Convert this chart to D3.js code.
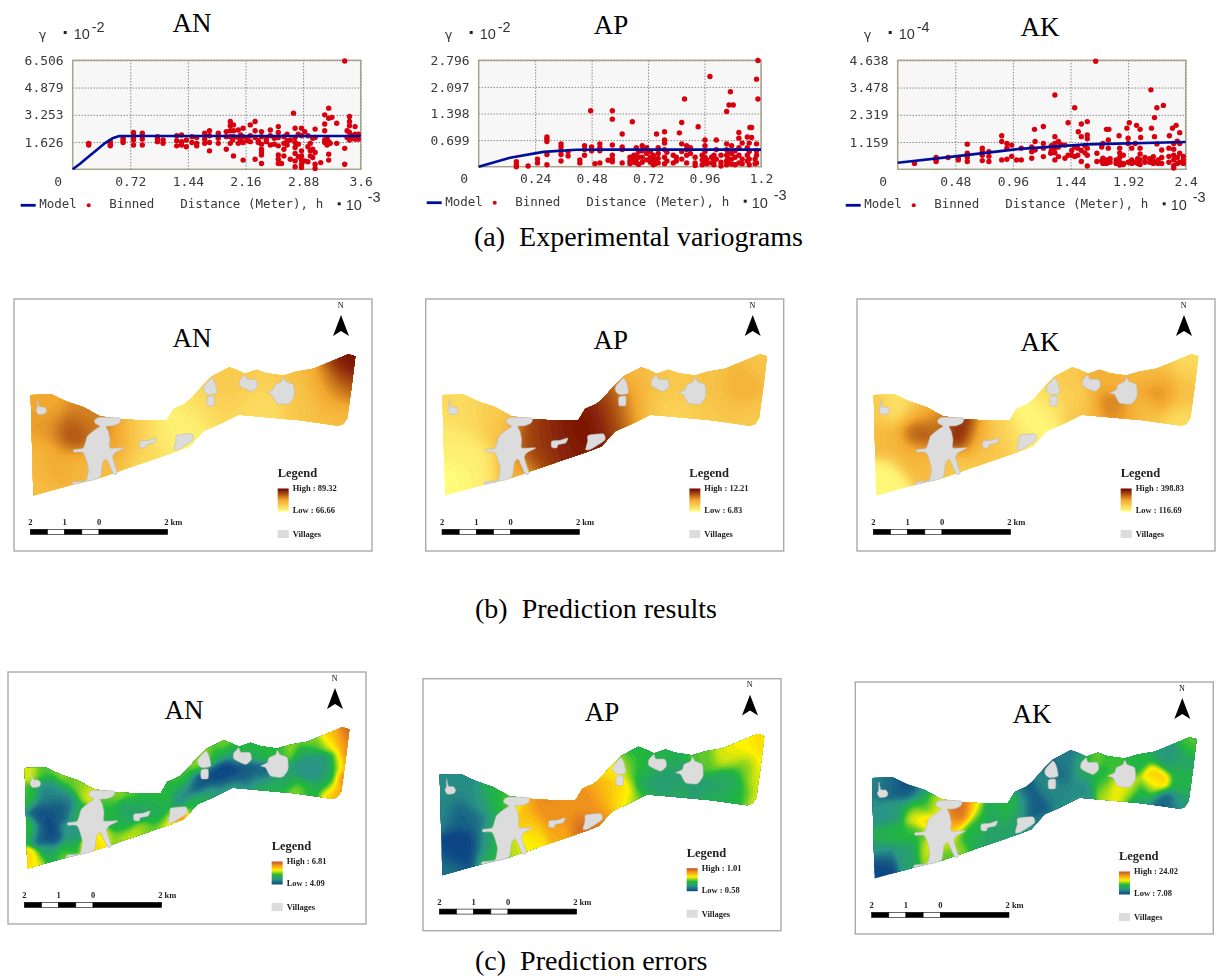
<!DOCTYPE html>
<html>
<head>
<meta charset="utf-8">
<script src="https://cdn.jsdelivr.net/npm/d3@7"></script>
<style>
  html, body { margin: 0; background: #fff; }
  svg { display: block; }
  .serif { font-family: "Liberation Serif", serif; fill: #000; }
  .mono { font-family: "DejaVu Sans Mono", monospace; fill: #3a3a3a; }
  .sans { font-family: "Liberation Sans", sans-serif; fill: #333; }
  .bold { font-family: "Liberation Serif", serif; font-weight: bold; fill: #222; }
</style>
</head>
<body>
<svg id="chart" width="1219" height="976"></svg>
<script>
// variogram data: [ distance, [ semivariances at that distance ] ]
const anBinned = [
  [0.20,[1.55,1.45]],[0.47,[1.65,1.5,1.4]],[0.63,[1.85,1.7,1.6]],[0.76,[2.2,2.05,1.9,1.75,1.45]],
  [0.87,[2.15,2.0,1.8,1.45]],[1.06,[1.95,1.8,1.65]],[1.13,[1.75,1.55]],[1.30,[2.0,1.7,1.4]],
  [1.36,[2.05,1.65,1.45]],[1.42,[1.75,1.35]],[1.49,[1.95,1.6]],[1.55,[1.9,1.55,1.4]],
  [1.65,[2.15,1.8,1.55]],[1.71,[2.3,2.0,1.6,1.1]],[1.82,[2.15,1.85,1.55]],[1.92,[2.25,1.95,1.2]],
  [1.97,[2.85,2.6,2.3,1.95,1.55]],[2.0,[1.75,1.85]],[2.01,[2.65,2.3,1.95,0.8]],[2.07,[2.35,1.9,1.55]],
  [2.1,[1.75,1.65,2.05]],[2.13,[2.45,1.95,1.6,0.55]],[2.18,[1.85,1.7]],[2.22,[2.65,2.0,1.65]],
  [2.28,[2.85,2.3,1.9,0.6]],[2.32,[1.7,1.6]],[2.36,[2.25,1.95,1.5,1.2,1.0,0.85,0.35]],[2.42,[1.8,1.65]],
  [2.47,[2.35,2.0,1.45]],[2.52,[1.85,1.5]],[2.57,[2.55,2.2,1.9,1.4,0.85,0.6,0.35]],
  [2.61,[0.35]],[2.64,[1.95,1.55,1.2,0.8]],[2.68,[2.1,1.7,1.45]],[2.72,[1.75,0.6]],[2.76,[3.35]],
  [2.78,[2.45,1.9,1.6,1.3,0.95,0.5,0.15]],[2.82,[2.1,1.5,0.75]],
  [2.86,[2.45,2.0,1.1,0.8,0.55,0.3,0.1]],[2.90,[2.25,0.5]],[2.94,[2.0,1.35,0.45]],[2.97,[1.55,1.1,0.8]],
  [3.0,[1.85,1.2,0.7]],[3.03,[2.4,1.9,1.0,0.3,0.05]],[3.1,[0.4]],[3.15,[3.25,2.7,2.3,1.75,1.6]],
  [3.18,[1.85,1.45]],[3.20,[3.65,3.05,1.65,0.9,0.55]],[3.22,[1.55]],
  [3.24,[3.1]],[3.30,[2.75,1.55]],[3.40,[6.46,1.25,0.3]],[3.43,[1.9,2.3]],[3.46,[3.15,2.85,2.6,2.2,1.9,1.75]],
  [3.5,[1.85,2.0]],[3.53,[2.55,2.1,1.8]],[3.57,[2.1,1.8]]
];
const apBinned = [
  [0.16,[0.13,0.05,0.0]],[0.21,[0.02]],[0.25,[0.2,0.1]],[0.29,[0.78,0.72,0.66,0.32,0.05]],
  [0.35,[0.6,0.52,0.42,0.32,0.15]],[0.38,[0.4,0.28]],[0.43,[0.18,0.1]],[0.45,[0.55,0.45,0.3]],
  [0.476,[1.47]],[0.48,[0.52,0.42]],[0.494,[0.08]],[0.515,[0.6,0.5,0.42,0.1]],[0.55,[0.17]],
  [0.568,[1.47,1.25,0.57,0.3,0.2,0.13]],[0.61,[0.86,0.52,0.45,0.1]],[0.643,[0.25,0.15,0.08]],
  [0.653,[1.18]],[0.66,[0.3,0.2,0.12]],[0.67,[0.5,0.3,0.2,0.1]],[0.68,[0.4,0.25,0.06]],
  [0.695,[0.55,0.42,0.25,0.12]],[0.714,[0.5,0.35,0.18]],[0.73,[0.4,0.25,0.12]],
  [0.742,[0.3,0.15,0.05]],[0.75,[0.2,0.08]],[0.756,[0.86]],[0.763,[0.5,0.35,0.22,0.1]],
  [0.79,[0.92,0.7,0.62,0.45,0.25,0.08]],[0.8,[0.38,0.15]],
  [0.827,[0.3,0.1]],[0.84,[0.25,0.15]],[0.853,[0.89]],[0.863,[1.16,0.6,0.4,0.2]],[0.875,[1.78]],
  [0.884,[0.55,0.45,0.3,0.1]],[0.9,[0.5,0.35]],[0.92,[0.25,0.1,0.03]],[0.933,[1.05]],[0.95,[0.3,0.18,0.05]],
  [0.962,[0.7,0.55,0.4,0.25,0.12]],[0.97,[0.08,0.18]],[0.983,[2.37]],[0.99,[0.25,0.1]],[1.0,[0.3,0.15,0.05]],
  [1.01,[0.7,0.45,0.2]],[1.03,[0.3,0.12,0.02]],[1.054,[1.45,0.6,0.45,0.3,0.15,0.05]],[1.06,[0.38,0.22,0.1]],
  [1.064,[1.62]],[1.07,[1.97]],[1.075,[0.55,0.35,0.2,0.07]],[1.082,[1.62]],[1.09,[0.42,0.25,0.05]],
  [1.106,[0.9,0.75,0.5,0.3,0.1]],[1.12,[0.62,0.2,0.08]],[1.142,[0.78,0.5,0.3,0.15]],[1.15,[0.62,0.4,0.2,0.05]],
  [1.153,[1.03]],[1.16,[1.03,0.77]],[1.175,[0.2,0.08]],[1.181,[2.3,0.6,0.42,0.3,0.1]],[1.187,[2.79,1.78]]
];
const akBinned = [
  [0.14,[0.25]],[0.32,[0.5,0.4,0.33]],[0.42,[0.5]],[0.505,[0.47,0.4]],[0.58,[1.07,0.68,0.5,0.33]],
  [0.705,[0.9,0.75,0.6,0.37]],[0.76,[0.75,0.55,0.33]],[0.867,[1.43,1.18,0.4]],[0.91,[1.1,0.9,0.43]],
  [0.95,[1.03,0.55]],[0.99,[0.4]],[1.03,[0.9,0.4]],[1.117,[0.95,0.75,0.47]],[1.14,[1.7]],
  [1.145,[1.18,0.82]],[1.214,[1.82,1.1,0.9,0.54]],[1.275,[0.68]],[1.28,[1.0,0.8]],[1.31,[3.16,1.39,1.1,0.9,0.7,0.4]],
  [1.34,[1.18,0.95,0.54]],[1.36,[1.05]],[1.394,[1.03,0.47]],[1.42,[1.98,0.6]],[1.45,[0.6,0.8]],[1.475,[2.62,0.95,0.54]],
  [1.5,[0.6,0.9]],[1.505,[1.6]],[1.53,[1.93,1.39,0.8,0.33]],[1.56,[1.0,0.7]],[1.58,[2.03,1.46,1.3,0.9,0.6,0.14]],
  [1.65,[4.6]],[1.66,[0.68,0.33]],[1.7,[0.35,0.95]],[1.71,[1.1,0.47,0.25]],[1.74,[1.7,0.4,0.25]],[1.755,[1.25,0.9]],
  [1.76,[1.7]],[1.77,[0.3,0.45]],[1.82,[0.25,0.4]],[1.845,[1.43]],[1.85,[0.9,0.7,0.5,0.3,0.18]],[1.88,[0.25,0.6,0.2]],
  [1.91,[1.75]],[1.92,[1.32,1.1,0.3]],[1.93,[1.98]],[1.95,[0.25,0.4,0.9]],[1.98,[1.1,0.3]],
  [1.99,[1.87]],[2.0,[0.25,0.45]],[2.02,[1.7,0.9,0.65,0.4,0.2]],[2.025,[1.35]],[2.06,[0.3,0.5]],[2.1,[0.45,0.3]],
  [2.11,[3.38]],[2.115,[1.75]],[2.13,[0.54,0.35,0.25]],[2.14,[2.2,1.39]],[2.16,[2.62,1.08]],[2.17,[0.25,0.4]],
  [2.2,[0.82,0.5,0.25]],[2.214,[2.72]],[2.26,[0.9,0.55,0.3]],
  [2.264,[1.43]],[2.29,[1.75]],[2.3,[1.1,0.85,0.6,0.4,0.15,0.05]],[2.32,[1.87]],[2.33,[0.5,1.2,0.25]],
  [2.35,[1.56,1.1,0.68,0.3]],[2.38,[0.4,0.25,0.55]]
];

// fitted model lines
const anModel = [[0,0],[0.1,0.36],[0.2,0.76],[0.3,1.15],[0.4,1.55],[0.5,1.86],[0.58,1.98],[0.72,1.99],[3.6,1.99]];
const apModel = [[0,0],[0.133,0.237],[0.275,0.39],[0.416,0.447],[0.56,0.45],[1.2,0.45]];
const akModel = [[0,0.28],[0.46,0.54],[1.02,0.87],[1.575,1.06],[2.4,1.16]];

// study area, in map units (frame runs 42..1116 by 27..785)
const areaOutline = [[92,316],[155,314],[200,335],[250,352],[300,380],[360,388],[420,392],[500,392],[510,375],[520,358],[555,342],[575,325],[610,285],[635,260],[688,232],[710,240],[735,252],[770,240],[800,250],[850,257],[890,245],[940,237],[1000,212],[1045,193],[1066,199],[1055,290],[1042,385],[1030,403],[1015,408],[900,392],[715,375],[655,405],[610,425],[570,470],[525,487],[400,530],[300,565],[218,585],[100,618]];
const villages = [
  [[113,328],[118,350],[133,352],[140,362],[135,372],[115,374],[108,362],[112,352]],
  [[285,390],[300,383],[360,385],[358,400],[340,408],[318,410],[325,425],[330,450],[330,475],[372,475],[345,490],[338,505],[352,550],[340,553],[320,510],[308,520],[302,560],[285,570],[262,575],[218,585],[222,577],[258,572],[265,535],[250,490],[222,488],[222,480],[250,475],[262,440],[285,420],[300,410],[285,400]],
  [[420,455],[445,452],[468,445],[462,460],[440,465],[435,475],[420,473]],
  [[530,437],[575,433],[580,450],[560,465],[535,480],[522,480],[528,455]],
  [[612,290],[635,265],[645,280],[650,310],[625,315],[612,305]],
  [[622,322],[642,320],[642,347],[622,347]],
  [[720,270],[735,255],[740,268],[768,270],[772,290],[755,305],[725,292],[718,285]],
  [[850,262],[858,275],[880,285],[882,320],[865,343],[830,340],[815,315],[800,310],[820,300],[825,285],[845,275]]
];

// surface samples: [ x, y, position in legend range ]
const predAN = [[215,425,.8],[150,340,.5],[250,365,.6],[130,420,.55],[105,500,.4],[110,600,.38],[170,520,.5],[230,540,.42],[310,530,.38],[350,440,.5],[300,420,.65],[400,430,.33],[450,430,.18],[500,440,.1],[440,510,.22],[540,400,.05],[600,390,.1],[580,350,.18],[640,350,.28],[670,300,.3],[700,270,.3],[700,360,.22],[780,340,.2],[780,260,.28],[900,330,.3],[900,270,.35],[960,330,.4],[960,260,.5],[1000,380,.35],[1030,300,.75],[1040,220,1],[1020,240,.9],[1000,300,.55],[1030,380,.4]];
const predAP = [[100,350,.2],[110,450,.12],[120,570,.02],[180,380,.22],[180,480,.1],[200,560,.1],[250,375,.3],[260,430,.35],[300,540,.4],[330,560,.45],[340,430,.78],[360,510,.82],[400,430,.88],[410,500,.85],[470,430,.92],[470,490,.9],[520,410,1],[510,470,.95],[540,380,.92],[570,440,.95],[590,360,.85],[600,410,.75],[630,330,.7],[660,380,.52],[680,310,.42],[700,260,.38],[720,350,.27],[780,350,.25],[800,280,.33],[780,250,.3],[900,360,.3],[900,270,.35],[950,320,.38],[990,290,.5],[1020,250,.4],[1050,220,.3],[1040,370,.32],[1000,390,.3]];
const predAK = [[100,340,.32],[161,340,.12],[230,360,.4],[231,425,.82],[346,425,1],[291,400,.6],[131,450,.4],[111,570,.05],[131,590,.05],[211,500,.42],[261,530,.38],[331,530,.3],[411,440,.45],[471,430,.3],[431,490,.3],[501,420,.2],[551,390,.02],[581,370,.05],[571,430,.1],[611,330,.2],[661,270,.3],[691,340,.25],[731,370,.38],[801,345,.7],[781,260,.45],[831,260,.42],[831,370,.5],[901,370,.35],[946,300,.62],[931,240,.35],[1021,220,.22],[1021,300,.35],[1011,390,.2]];
const errAN = [[96,320,.6],[150,325,.47],[100,400,.4],[100,500,.4],[100,590,.72],[125,600,.6],[150,400,.17],[170,370,.2],[130,440,.05],[190,440,.05],[150,470,.03],[130,510,.04],[170,520,.03],[210,440,.1],[210,400,.2],[230,500,.25],[160,570,.3],[220,560,.35],[200,590,.45],[260,370,.5],[240,350,.42],[285,385,.62],[250,450,.4],[300,550,.7],[320,530,.6],[340,400,.45],[350,450,.42],[390,440,.3],[380,480,.38],[370,540,.5],[430,430,.3],[450,400,.38],[490,420,.35],[500,470,.35],[470,510,.5],[430,520,.55],[520,500,.65],[560,480,.8],[500,395,.4],[530,380,.4],[560,400,.15],[600,370,.06],[640,340,.03],[680,330,.02],[700,320,.0],[710,350,.03],[660,390,.15],[620,420,.25],[590,430,.4],[560,350,.3],[610,290,.45],[660,270,.3],[690,240,.42],[660,250,.5],[720,270,.2],[750,330,.06],[790,330,.08],[780,360,.2],[790,260,.3],[850,250,.42],[870,340,.3],[870,370,.35],[930,380,.4],[940,320,.22],[950,290,.22],[990,300,.24],[930,260,.3],[960,240,.45],[1000,350,.3],[1000,235,.55],[1020,380,.7],[1030,300,.5],[1040,390,.85],[1040,220,.85],[1060,200,1],[1058,290,.95],[1050,350,.95],[1020,215,.8],[890,395,.5],[800,370,.3],
  [200,335,.55],[250,352,.6],[360,388,.55],[420,392,.5],[500,392,.5],[555,342,.6],[610,285,.6],[635,262,.6],[688,232,.6],[735,252,.5],[800,250,.52],[890,245,.55],[940,237,.6],[1000,212,.7],[900,392,.6],[800,385,.5],[715,375,.4],[655,405,.45],[610,425,.55],[570,470,.85],[525,487,.72],[400,530,.6],[300,565,.7],[218,585,.6],[92,400,.5],[93,500,.55]];
const errAP = [[95,325,.22],[150,330,.2],[100,420,.2],[110,600,.15],[130,560,.02],[160,520,.0],[190,520,.0],[150,440,.08],[200,450,.12],[190,380,.2],[230,400,.28],[250,360,.4],[290,380,.48],[270,400,.45],[230,520,.3],[260,480,.38],[250,550,.4],[320,530,.6],[305,545,.55],[345,430,.75],[360,470,.7],[370,530,.65],[400,410,.87],[420,430,.85],[450,490,.8],[480,430,.85],[520,400,.85],[520,470,.95],[560,410,.85],[580,460,.92],[600,420,.78],[610,355,.72],[620,390,.66],[640,370,.62],[590,365,.8],[660,420,.55],[700,390,.5],[620,300,.65],[660,290,.5],[680,250,.42],[700,300,.38],[720,350,.28],[770,340,.27],[790,300,.3],[770,260,.4],[880,270,.48],[870,360,.27],[930,370,.3],[960,390,.42],[960,330,.32],[1000,370,.4],[1010,300,.5],[1040,340,.62],[1040,390,.65],[950,260,.6],[1000,225,.63],[1060,210,.68],[1060,290,.66],[900,400,.42],[800,380,.35]];
const errAK = [[110,330,.2],[150,330,.1],[190,340,.02],[130,340,.1],[190,355,.08],[240,360,.2],[105,420,.22],[150,420,.25],[190,400,.3],[230,400,.35],[260,390,.42],[215,420,.62],[226,421,.66],[250,445,.72],[285,400,.65],[270,380,.6],[160,480,.4],[120,490,.38],[200,480,.45],[230,480,.45],[120,530,.25],[180,540,.28],[210,520,.3],[110,590,.02],[130,580,.0],[130,560,.1],[200,570,.3],[260,560,.55],[250,520,.62],[310,510,.62],[320,540,.45],[350,525,.55],[340,440,.85],[350,420,.95],[370,405,.95],[330,470,.7],[400,410,.6],[390,470,.42],[410,440,.4],[440,420,.3],[370,490,.4],[400,510,.35],[440,490,.3],[480,410,.4],[480,450,.33],[470,500,.3],[520,480,.3],[500,405,.45],[540,395,.4],[520,420,.3],[560,380,.05],[560,410,.02],[590,400,.05],[540,450,.25],[600,440,.2],[620,360,.18],[640,330,.2],[660,400,.2],[700,260,.15],[680,280,.18],[660,300,.1],[710,340,.2],[720,300,.3],[690,350,.18],[700,370,.25],[730,270,.5],[780,320,.42],[800,345,.55],[830,350,.68],[860,360,.5],[860,340,.62],[830,260,.45],[870,270,.42],[900,260,.4],[940,320,.55],[940,300,.78],[950,320,.8],[930,340,.55],[900,360,.38],[960,380,.12],[970,390,.05],[890,390,.25],[1000,400,.2],[1020,380,.3],[1010,330,.38],[1000,280,.4],[1020,260,.3],[1060,210,.5],[1050,220,.42],[960,260,.3],[1050,330,.4],[980,260,.2]];

const predStops = [ "#ffff80", "#fad155", "#f2a72e", "#ad5313", "#6b0000" ];
const errStops = [ "#0f4585", "#2a9486", "#22b83c", "#fff200", "#f59a1a", "#c0522a" ];
const predDomain = [ 0, .25, .5, .75, 1 ];
const errDomain = [ 0, .22, .42, .62, .82, 1 ];

const svg = d3.select( "#chart" );
const defs = svg.append( "defs" );
defs.append( "filter" ).attr( "id", "soft" )
  .attr( "x", "-2%" ).attr( "y", "-2%" ).attr( "width", "104%" ).attr( "height", "104%" )
  .append( "feGaussianBlur" ).attr( "stdDeviation", 0.55 );

const points = cols => cols.flatMap( ( [ x, ys ] ) => ys.map( y => [ x, y ] ) );

function drawVariogram( c ) {
  const x = d3.scaleLinear().domain( [ 0, c.xTicks[ c.xTicks.length - 1 ] ] ).range( [ c.left, c.right ] );
  const y = d3.scaleLinear().domain( [ 0, c.yTicks[ c.yTicks.length - 1 ] ] ).range( [ c.bottom, c.top ] );
  const g = svg.append( "g" ).attr( "filter", "url(#soft)" );

  g.append( "rect" )
    .attr( "x", c.left ).attr( "y", c.top )
    .attr( "width", c.right - c.left ).attr( "height", c.bottom - c.top )
    .attr( "fill", "#f7f7f7" );

  const xAxis = g.append( "g" )
    .attr( "transform", `translate(0,${ c.bottom })` )
    .call( d3.axisBottom( x ).tickValues( c.xTicks ).tickFormat( ( d, i ) => c.xLabels[ i ] )
      .tickSize( c.top - c.bottom ).tickPadding( 7 ) );
  const yAxis = g.append( "g" )
    .attr( "transform", `translate(${ c.left },0)` )
    .call( d3.axisLeft( y ).tickValues( c.yTicks ).tickFormat( d => d3.format( ".3f" )( d ) )
      .tickSize( c.left - c.right ).tickPadding( 9 ) );

  [ xAxis, yAxis ].forEach( a => {
    a.select( ".domain" ).remove();
    a.selectAll( "line" ).attr( "stroke", "#555" ).attr( "stroke-dasharray", "1,2" );
    a.selectAll( "text" ).attr( "class", "mono" ).style( "font-size", "13px" ).attr( "fill", null );
  } );
  // the picture sets the origin label away from the corner
  xAxis.selectAll( ".tick text" ).filter( d => d === 0 ).attr( "dx", -15 );
  xAxis.selectAll( ".tick line" ).filter( d => d === 0 ).remove();

  g.append( "rect" )
    .attr( "x", c.left ).attr( "y", c.top )
    .attr( "width", c.right - c.left ).attr( "height", c.bottom - c.top )
    .attr( "fill", "none" ).attr( "stroke", "#a8a48c" ).attr( "stroke-width", 1.5 );

  g.append( "g" ).selectAll( "circle" )
    .data( points( c.binned ) )
    .join( "circle" )
    .attr( "cx", d => x( d[ 0 ] ) )
    .attr( "cy", d => y( d[ 1 ] ) )
    .attr( "r", 2.7 )
    .attr( "fill", "#d9000f" );

  g.append( "path" )
    .datum( c.model )
    .attr( "fill", "none" )
    .attr( "stroke", "#00109a" )
    .attr( "stroke-width", 2.6 )
    .attr( "d", d3.line().x( d => x( d[ 0 ] ) ).y( d => y( d[ 1 ] ) ) );

  // y header
  const hx = c.left - 30, hy = 34;
  g.append( "text" ).attr( "class", "mono" ).attr( "x", hx ).attr( "y", hy + 5 )
    .attr( "text-anchor", "middle" ).style( "font-size", "13px" ).text( "γ" );
  g.append( "rect" ).attr( "x", hx + 21 ).attr( "y", hy - 3 ).attr( "width", 3 ).attr( "height", 3 ).attr( "fill", "#222" );
  g.append( "text" ).attr( "class", "sans" ).attr( "x", hx + 31 ).attr( "y", hy + 5 ).style( "font-size", "14.5px" ).text( "10" );
  g.append( "text" ).attr( "class", "sans" ).attr( "x", hx + 49 ).attr( "y", hy - 2 ).style( "font-size", "14.5px" ).text( c.yExp );

  // legend row
  const ly = c.bottom + 36, lx = c.left;
  g.append( "line" ).attr( "x1", lx - 52 ).attr( "x2", lx - 37 ).attr( "y1", ly ).attr( "y2", ly )
    .attr( "stroke", "#00109a" ).attr( "stroke-width", 2.8 );
  g.append( "circle" ).attr( "cx", lx + 16 ).attr( "cy", ly ).attr( "r", 2 ).attr( "fill", "#d9000f" );
  [ [ -33.5, "Model" ], [ 36.5, "Binned" ], [ 107.5, "Distance (Meter), h" ] ].forEach( ( [ dx, t ] ) => {
    g.append( "text" ).attr( "class", "mono" ).attr( "x", lx + dx ).attr( "y", ly + 3 )
      .style( "font-size", "12.5px" ).text( t );
  } );
  g.append( "rect" ).attr( "x", lx + 265 ).attr( "y", ly - 3 ).attr( "width", 3 ).attr( "height", 3 ).attr( "fill", "#222" );
  g.append( "text" ).attr( "class", "sans" ).attr( "x", lx + 273 ).attr( "y", ly + 5 ).style( "font-size", "14.5px" ).text( "10" );
  g.append( "text" ).attr( "class", "sans" ).attr( "x", lx + 295 ).attr( "y", ly - 3 ).style( "font-size", "14.5px" ).text( "-3" );
}

const mapX = d3.scaleLinear().domain( [ 42, 1116 ] ).range( [ 0, 358 ] );
const mapY = d3.scaleLinear().domain( [ 27, 785 ] ).range( [ 0, 252 ] );
const mapLine = d3.line().x( d => mapX( d[ 0 ] ) ).y( d => mapY( d[ 1 ] ) );
const polygon = pts => mapLine( pts ) + "Z";
const villageShape = d3.line().x( d => mapX( d[ 0 ] ) ).y( d => mapY( d[ 1 ] ) )
  .curve( d3.curveCardinalClosed.tension( 0.4 ) );

const gridStep = 2;
const gridW = 180, gridH = 127;

// smooth the read samples onto a grid for d3.contours
function surface( samples, bandwidth ) {
  const values = new Float64Array( gridW * gridH );
  for ( let j = 0; j < gridH; j++ ) {
    for ( let i = 0; i < gridW; i++ ) {
      const zx = mapX.invert( i * gridStep ), zy = mapY.invert( j * gridStep );
      let sum = 0, weight = 0;
      for ( const s of samples ) {
        const dx = zx - s[ 0 ], dy = zy - s[ 1 ];
        const w = Math.exp( -( dx * dx + dy * dy ) / ( 2 * bandwidth * bandwidth ) );
        sum += w * s[ 2 ];
        weight += w;
      }
      values[ j * gridW + i ] = weight > 0 ? sum / weight : 0;
    }
  }
  return values;
}

function drawMap( c, index ) {
  const g = svg.append( "g" )
    .attr( "transform", `translate(${ c.fx },${ c.fy })` )
    .attr( "filter", "url(#soft)" );

  g.append( "rect" ).attr( "width", 358 ).attr( "height", 252 )
    .attr( "fill", "#fff" ).attr( "stroke", "#aaa" ).attr( "stroke-width", 1.4 );

  const clipId = `area${ index }`;
  defs.append( "clipPath" ).attr( "id", clipId ).append( "path" ).attr( "d", polygon( areaOutline ) );

  const color = d3.scaleLinear().domain( c.domain ).range( c.stops ).interpolate( d3.interpolateRgb );
  const thresholds = d3.range( 0, 1.0001, 1 / 50 );
  const bands = d3.contours().size( [ gridW, gridH ] ).thresholds( thresholds )( surface( c.samples, c.bandwidth ) );
  const bandPath = d3.geoPath( d3.geoIdentity().scale( gridStep ) );

  g.append( "g" ).attr( "clip-path", `url(#${ clipId })` )
    .selectAll( "path" )
    .data( bands )
    .join( "path" )
    .attr( "d", bandPath )
    .attr( "fill", d => color( d.value ) );

  g.append( "g" ).selectAll( "path" )
    .data( villages )
    .join( "path" )
    .attr( "d", villageShape )
    .attr( "fill", "#dcdcdc" )
    .attr( "stroke", "#b8b8b8" )
    .attr( "stroke-width", 0.6 );

  // north arrow
  g.append( "path" ).attr( "d", polygon( [ [1023,75], [1047,138], [1023,123], [999,138] ] ) ).attr( "fill", "#000" );
  g.append( "text" ).attr( "class", "serif" ).attr( "x", mapX( 1022 ) ).attr( "y", mapY( 53 ) )
    .attr( "text-anchor", "middle" ).style( "font-size", "8px" ).text( "N" );

  // legend
  const gradId = `ramp${ index }`;
  const grad = defs.append( "linearGradient" ).attr( "id", gradId )
    .attr( "x1", 0 ).attr( "x2", 0 ).attr( "y1", 1 ).attr( "y2", 0 );
  c.domain.forEach( ( d, i ) => {
    grad.append( "stop" ).attr( "offset", d ).attr( "stop-color", c.stops[ i ] );
  } );
  g.append( "text" ).attr( "class", "bold" ).attr( "x", mapX( 833 ) ).attr( "y", mapY( 563 ) )
    .style( "font-size", "12.5px" ).text( "Legend" );
  g.append( "rect" ).attr( "x", mapX( 833 ) ).attr( "y", mapY( 597 ) )
    .attr( "width", 11 ).attr( "height", 23 ).attr( "fill", `url(#${ gradId })` );
  g.append( "text" ).attr( "class", "bold" ).attr( "x", mapX( 878 ) ).attr( "y", mapY( 606 ) )
    .style( "font-size", "8.5px" ).text( `High : ${ c.high }` );
  g.append( "text" ).attr( "class", "bold" ).attr( "x", mapX( 878 ) ).attr( "y", mapY( 672 ) )
    .style( "font-size", "8.5px" ).text( `Low : ${ c.low }` );
  g.append( "rect" ).attr( "x", mapX( 833 ) ).attr( "y", mapY( 722 ) )
    .attr( "width", 11 ).attr( "height", 8 ).attr( "fill", "#dcdcdc" );
  g.append( "text" ).attr( "class", "bold" ).attr( "x", mapX( 878 ) ).attr( "y", mapY( 743 ) )
    .style( "font-size", "8.5px" ).text( "Villages" );

  // scale bar
  const km = d3.scaleLinear().domain( [ -2, 2 ] ).range( [ mapX( 91 ), mapX( 503 ) ] );
  const barSteps = [ -2, -1.5, -1, -0.5, 0, 2 ];
  g.append( "g" ).selectAll( "rect" )
    .data( d3.pairs( barSteps ) )
    .join( "rect" )
    .attr( "x", d => km( d[ 0 ] ) )
    .attr( "y", mapY( 720 ) )
    .attr( "width", d => km( d[ 1 ] ) - km( d[ 0 ] ) )
    .attr( "height", 5 )
    .attr( "fill", ( d, i ) => i % 2 ? "#fff" : "#000" )
    .attr( "stroke", "#000" )
    .attr( "stroke-width", 0.6 );
  g.append( "g" ).selectAll( "text" )
    .data( [ [ -2, "2" ], [ -1, "1" ], [ 0, "0" ], [ 1.9, "2 km" ] ] )
    .join( "text" )
    .attr( "class", "bold" )
    .attr( "x", d => km( d[ 0 ] ) )
    .attr( "y", mapY( 708 ) )
    .attr( "text-anchor", ( d, i ) => i === 3 ? "start" : "middle" )
    .style( "font-size", "8.5px" )
    .text( d => d[ 1 ] );
}

drawVariogram( { left: 72.7, right: 360.7, top: 60.3, bottom: 169.3, xTicks: [ 0, 0.72, 1.44, 2.16, 2.88, 3.6 ], xLabels: [ "0", "0.72", "1.44", "2.16", "2.88", "3.6" ], yTicks: [ 1.626, 3.253, 4.879, 6.506 ], yExp: "-2", binned: anBinned, model: anModel } );
drawVariogram( { left: 478.7, right: 761, top: 60.3, bottom: 166.7, xTicks: [ 0, 0.24, 0.48, 0.72, 0.96, 1.2 ], xLabels: [ "0", "0.24", "0.48", "0.72", "0.96", "1.2" ], yTicks: [ 0.699, 1.398, 2.097, 2.796 ], yExp: "-2", binned: apBinned, model: apModel } );
drawVariogram( { left: 897.7, right: 1185.7, top: 60.3, bottom: 169.3, xTicks: [ 0, 0.48, 0.96, 1.44, 1.92, 2.4 ], xLabels: [ "0", "0.48", "0.96", "1.44", "1.92", "2.4" ], yTicks: [ 1.159, 2.319, 3.478, 4.638 ], yExp: "-4", binned: akBinned, model: akModel } );

[
  { fx: 14, fy: 299, samples: predAN, bandwidth: 38, domain: predDomain, stops: predStops, high: "89.32", low: "66.66" },
  { fx: 425.7, fy: 299, samples: predAP, bandwidth: 38, domain: predDomain, stops: predStops, high: "12.21", low: "6.83" },
  { fx: 857, fy: 299, samples: predAK, bandwidth: 36, domain: predDomain, stops: predStops, high: "398.83", low: "116.69" },
  { fx: 8, fy: 672, samples: errAN, bandwidth: 20, domain: errDomain, stops: errStops, high: "6.81", low: "4.09" },
  { fx: 423, fy: 678.7, samples: errAP, bandwidth: 26, domain: errDomain, stops: errStops, high: "1.01", low: "0.58" },
  { fx: 855.3, fy: 682, samples: errAK, bandwidth: 20, domain: errDomain, stops: errStops, high: "24.02", low: "7.08" }
].forEach( drawMap );

// panel titles and captions
const titles = [
  [ "AN", 192, 32 ], [ "AP", 611, 34 ], [ "AK", 1040, 36 ],
  [ "AN", 192, 347 ], [ "AP", 610.7, 349 ], [ "AK", 1040, 351 ],
  [ "AN", 184, 719 ], [ "AP", 602, 721 ], [ "AK", 1032, 723 ]
];
svg.append( "g" ).selectAll( "text" )
  .data( titles )
  .join( "text" )
  .attr( "class", "serif" )
  .attr( "x", d => d[ 1 ] )
  .attr( "y", d => d[ 2 ] )
  .attr( "text-anchor", "middle" )
  .style( "font-size", "27px" )
  .text( d => d[ 0 ] );

const captions = [
  [ "(a)  Experimental variograms", 474, 246 ],
  [ "(b)  Prediction results", 475, 618 ],
  [ "(c)  Prediction errors", 475, 970 ]
];
svg.append( "g" ).selectAll( "text" )
  .data( captions )
  .join( "text" )
  .attr( "class", "serif" )
  .attr( "x", d => d[ 1 ] )
  .attr( "y", d => d[ 2 ] )
  .style( "white-space", "pre" )
  .style( "font-size", "28px" )
  .text( d => d[ 0 ] );
</script>
</body>
</html>
